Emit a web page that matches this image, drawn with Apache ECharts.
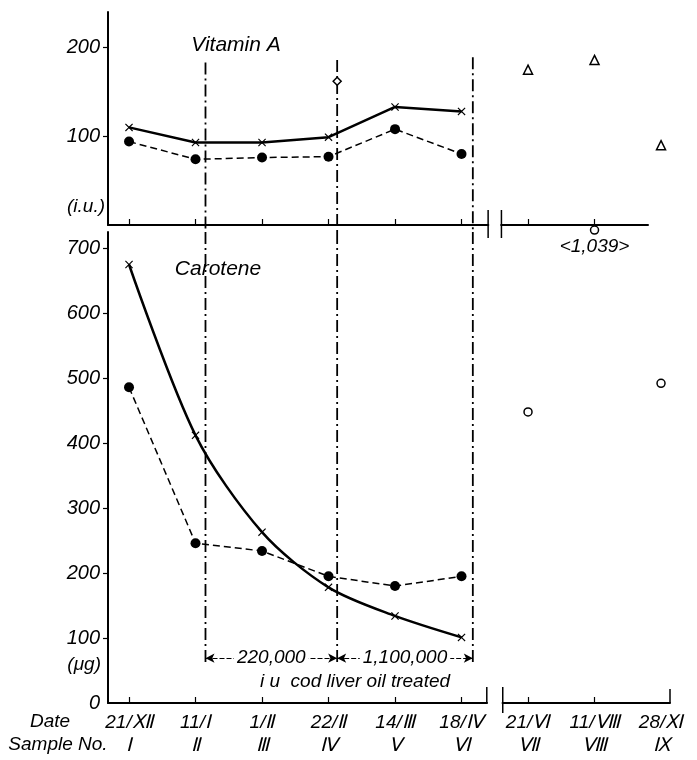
<!DOCTYPE html>
<html>
<head>
<meta charset="utf-8">
<script src="https://cdn.jsdelivr.net/npm/echarts@6.0.0/dist/echarts.min.js"></script>
<style>
html, body { margin: 0; padding: 0; background: #fff; }
#chart { width: 697px; height: 760px; }
</style>
</head>
<body>
<div id="chart"></div>
<script>
// 样本编号 / 日期
var sampleNo = [1, 2, 3, 4, 5, 6, 7, 8, 9];
var dateLabels = ['21/Ⅻ', '11/Ⅰ', '1/Ⅱ', '22/Ⅱ', '14/Ⅲ', '18/Ⅳ', '21/Ⅵ', '11/Ⅷ', '28/Ⅺ'];
var sampleLabels = ['Ⅰ', 'Ⅱ', 'Ⅲ', 'Ⅳ', 'Ⅴ', 'Ⅵ', 'Ⅶ', 'Ⅷ', 'Ⅸ'];

// Vitamin A (i.u.)
var vitASolid = [110, 93, 93, 99, 133, 128];
var vitADashed = [94, 74, 76, 77, 108, 80];
var vitATriangle = [[7, 175], [8, 186], [9, 90]];
var vitADiamond = [[4.13, 162]];

// Carotene (μg)
var carSolid = [675, 412, 263, 178, 134, 101];
var carDashed = [486, 246, 234, 195, 180, 195];
var carOpen = [[7, 448], [9, 492]];
var carOffScale = [[8, 1039]];

// 鱼肝油投与时间和剂量
var treatX = [2.15, 4.13, 6.17];
var treatTopA = [183, 186, 189];
var doses = ['220,000', '1,100,000'];

var vitATicks = [100, 200];
var carTicks = [0, 100, 200, 300, 400, 500, 600, 700];

var FONT = 'Liberation Sans';
var xMin = 0.684;
var carMax = 725;

function pairs(arr) {
    return arr.map(function (v, i) { return [sampleNo[i], v]; });
}

var crossSymbol = 'path://M0,1L1,0L5,4L9,0L10,1L6,5L10,9L9,10L5,6L1,10L0,9L4,5Z';
var dashDot = [12, 4, 2, 4];
var openStyle = { color: '#fff', borderColor: '#000', borderWidth: 1.5, opacity: 1 };

var chart = echarts.init(document.getElementById('chart'));

var series = [
    {
        type: 'line', xAxisIndex: 0, yAxisIndex: 0,
        data: pairs(vitASolid),
        symbol: crossSymbol, symbolSize: 8,
        itemStyle: { color: '#000' },
        lineStyle: { color: '#000', width: 2.5 },
        z: 5
    },
    {
        type: 'line', xAxisIndex: 0, yAxisIndex: 0,
        data: pairs(vitADashed),
        symbol: 'circle', symbolSize: 10,
        itemStyle: { color: '#000' },
        lineStyle: { color: '#000', width: 1.5, type: [7, 4] },
        z: 5
    },
    {
        type: 'scatter', xAxisIndex: 0, yAxisIndex: 0,
        data: vitATriangle, clip: false,
        symbol: 'triangle', symbolSize: 9,
        itemStyle: openStyle,
        z: 6
    },
    {
        type: 'scatter', xAxisIndex: 0, yAxisIndex: 0,
        data: vitADiamond,
        symbol: 'diamond', symbolSize: 8,
        itemStyle: openStyle,
        z: 6
    },
    {
        type: 'line', xAxisIndex: 1, yAxisIndex: 1,
        data: pairs(carSolid),
        smooth: 0.3,
        symbol: crossSymbol, symbolSize: 8,
        itemStyle: { color: '#000' },
        lineStyle: { color: '#000', width: 2.5 },
        z: 5
    },
    {
        type: 'line', xAxisIndex: 1, yAxisIndex: 1,
        data: pairs(carDashed),
        symbol: 'circle', symbolSize: 10,
        itemStyle: { color: '#000' },
        lineStyle: { color: '#000', width: 1.5, type: [7, 4] },
        z: 5
    },
    {
        type: 'scatter', xAxisIndex: 1, yAxisIndex: 1,
        data: carOpen, clip: false,
        symbol: 'circle', symbolSize: 8,
        itemStyle: openStyle,
        z: 6
    },
    {
        // 超出坐标范围的值画在顶部
        type: 'scatter', xAxisIndex: 1, yAxisIndex: 1,
        data: carOffScale.map(function (d) { return { value: [d[0], carMax + 3], real: d[1] }; }),
        clip: false,
        symbol: 'circle', symbolSize: 8,
        itemStyle: openStyle,
        label: {
            show: true, position: 'bottom', distance: 2,
            fontFamily: FONT, fontStyle: 'italic', fontSize: 19, color: '#000',
            formatter: function (p) { return '<' + echarts.format.addCommas(p.data.real) + '>'; }
        },
        z: 6
    }
];

// 投与时间的点划线
treatX.forEach(function (x, i) {
    series.push({
        type: 'line', xAxisIndex: 0, yAxisIndex: 0,
        data: [[x, treatTopA[i]], [x, -8]], clip: false,
        symbol: 'none', silent: true,
        lineStyle: { color: '#000', width: 1.8, type: dashDot }
    });
    series.push({
        type: 'line', xAxisIndex: 1, yAxisIndex: 1,
        data: [[x, carMax], [x, 58]], clip: false,
        symbol: 'none', silent: true,
        lineStyle: { color: '#000', width: 1.8, type: dashDot }
    });
});

// 剂量箭头
series.push({
    type: 'line', xAxisIndex: 1, yAxisIndex: 1, data: [],
    markLine: {
        silent: true,
        symbol: ['arrow', 'arrow'], symbolSize: [7, 9],
        lineStyle: { color: '#000', width: 1.2, type: [5, 2] },
        label: { show: false },
        data: doses.map(function (d, i) {
            return [{ coord: [treatX[i], 69] }, { coord: [treatX[i + 1], 69] }];
        })
    }
});

function xAxisBase(grid, ticks) {
    return {
        type: 'value', gridIndex: grid, min: xMin, max: grid === 0 ? 8.804 : 9.135,
        splitLine: { show: false },
        axisLine: { show: true, onZero: false, lineStyle: { color: '#000', width: 2 } },
        axisTick: { show: true, inside: true, length: 6, customValues: ticks, lineStyle: { color: '#000', width: 1.2 } }
    };
}

var xTop = xAxisBase(0, sampleNo.slice(0, 8));
xTop.axisLabel = { show: false };
var xBottom = xAxisBase(1, sampleNo.slice(0, 8));
xBottom.axisLabel = {
    show: true, customValues: sampleNo, margin: 8,
    fontFamily: FONT, fontStyle: 'italic', fontSize: 19, lineHeight: 23, color: '#000',
    formatter: function (v) {
        var i = Math.round(v) - 1;
        return dateLabels[i] + '\n' + sampleLabels[i];
    }
};

var option = {
    animation: false,
    backgroundColor: '#fff',
    grid: [
        { left: 108, top: 12, width: 540, height: 213 },
        { left: 108, top: 232, width: 562, height: 471 }
    ],
    xAxis: [xTop, xBottom],
    yAxis: [
        {
            type: 'value', gridIndex: 0, min: 0, max: 240,
            splitLine: { show: false },
            axisLine: { show: true, lineStyle: { color: '#000', width: 2 } },
            axisTick: { show: true, length: 5, customValues: vitATicks, lineStyle: { color: '#000', width: 1.2 } },
            axisLabel: { customValues: vitATicks, margin: 8, fontFamily: FONT, fontStyle: 'italic', fontSize: 20, color: '#000' }
        },
        {
            type: 'value', gridIndex: 1, min: 0, max: carMax,
            splitLine: { show: false },
            axisLine: { show: true, lineStyle: { color: '#000', width: 2 } },
            axisTick: { show: true, length: 5, customValues: carTicks.slice(1), lineStyle: { color: '#000', width: 1.2 } },
            axisLabel: { customValues: carTicks, margin: 8, fontFamily: FONT, fontStyle: 'italic', fontSize: 20, color: '#000' }
        }
    ],
    series: series
};

chart.setOption(option);

// 文字和坐标轴断开标记
function px(axis, x, y) {
    return chart.convertToPixel({ xAxisIndex: axis, yAxisIndex: axis }, [x, y]);
}

var txt = function (x, y, s, size, align) {
    return {
        type: 'text', x: x, y: y, z: 50,
        style: {
            text: s, fill: '#000', fontFamily: FONT, fontStyle: 'italic', fontSize: size || 19,
            align: align || 'center', verticalAlign: 'middle'
        }
    };
};

var gTop = px(0, 6.4, 0), gTop2 = px(0, 6.6, 0);
var gBot = px(1, 6.38, 0), gBot2 = px(1, 6.62, 0);
var endBot = px(1, 9.135, 0);

var graphics = [
    txt(236, 45, 'Vitamin A', 21),
    txt(218, 269, 'Carotene', 21),
    txt(105, 207, '(i.u.)', 19, 'right'),
    txt(101, 665, '(μg)', 19, 'right'),
    txt(50, 722, 'Date', 19),
    txt(58, 745, 'Sample No.', 19),
    txt(355, 682, 'i u  cod liver oil treated', 19),
    // 上图断开
    { type: 'rect', z: 40, shape: { x: gTop[0] + 1, y: gTop[1] - 3, width: gTop2[0] - gTop[0] - 2, height: 6 }, style: { fill: '#fff' } },
    { type: 'line', z: 41, shape: { x1: gTop[0], y1: gTop[1] - 15, x2: gTop[0], y2: gTop[1] + 13 }, style: { stroke: '#000', lineWidth: 1.5 } },
    { type: 'line', z: 41, shape: { x1: gTop2[0], y1: gTop2[1] - 15, x2: gTop2[0], y2: gTop2[1] + 13 }, style: { stroke: '#000', lineWidth: 1.5 } },
    // 下图断开
    { type: 'rect', z: 40, shape: { x: gBot[0] + 1, y: gBot[1] - 3, width: gBot2[0] - gBot[0] - 2, height: 6 }, style: { fill: '#fff' } },
    { type: 'line', z: 41, shape: { x1: gBot[0], y1: gBot[1] - 16, x2: gBot[0], y2: gBot[1] }, style: { stroke: '#000', lineWidth: 1.5 } },
    { type: 'line', z: 41, shape: { x1: gBot2[0], y1: gBot2[1] - 16, x2: gBot2[0], y2: gBot2[1] + 10 }, style: { stroke: '#000', lineWidth: 1.5 } },
    { type: 'line', z: 41, shape: { x1: endBot[0], y1: endBot[1] - 14, x2: endBot[0], y2: endBot[1] }, style: { stroke: '#000', lineWidth: 1.5 } }
];

// 剂量文字
doses.forEach(function (d, i) {
    var a = px(1, treatX[i], 69), b = px(1, treatX[i + 1], 69);
    var t = txt((a[0] + b[0]) / 2, a[1], d, 19);
    t.style.backgroundColor = '#fff';
    t.style.padding = [0, 3];
    graphics.push(t);
});

chart.setOption({ graphic: graphics });
</script>
</body>
</html>
